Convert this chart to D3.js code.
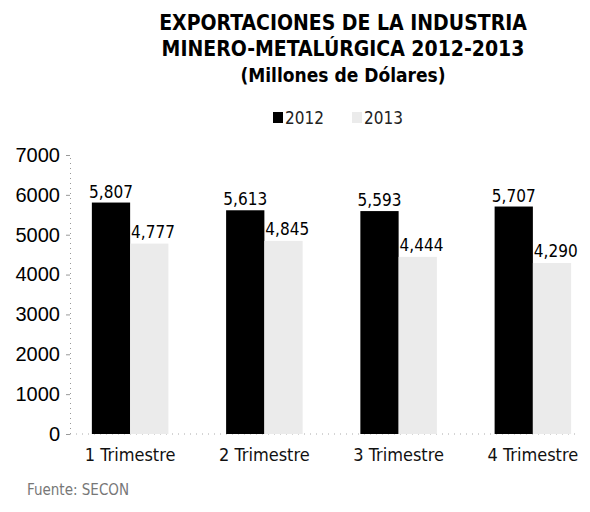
<!DOCTYPE html>
<html lang="es">
<head>
<meta charset="UTF-8" />
<title>Exportaciones minero-metalúrgicas 2012-2013</title>
<script src="https://d3js.org/d3.v7.min.js"></script>
<style>
  body { margin: 0; background: #fff; }
  svg { display: block; font-family: "DejaVu Sans Condensed", "DejaVu Sans", sans-serif; font-stretch: condensed; }
</style>
</head>
<body>
<svg id="chart" width="590" height="512"></svg>
<script>
// datos
const trimestres = ["1 Trimestre", "2 Trimestre", "3 Trimestre", "4 Trimestre"];
const anios = ["2012", "2013"];
const valores2012 = [5807, 5613, 5593, 5707];
const valores2013 = [4777, 4845, 4444, 4290];
const yTicks = [0, 1000, 2000, 3000, 4000, 5000, 6000, 7000];
const colores = { "2012": "#000", "2013": "#ebebeb" };

const svg = d3.select("#chart");
const fmt = d3.format(",");

// escalas
const x0 = d3.scaleBand().domain(trimestres).range([63, 600])
  .paddingInner(0.43).paddingOuter(0.215);
const x1 = d3.scaleBand().domain(anios).range([0, x0.bandwidth()]);
const y = d3.scaleLinear().domain([0, 7000]).range([434, 155]);

// titulo
const titulo = ["EXPORTACIONES DE LA INDUSTRIA", "MINERO-METALÚRGICA 2012-2013", "(Millones de Dólares)"];
svg.append("g").selectAll("text").data(titulo).join("text")
  .attr("x", 343).attr("y", (d, i) => 30 + i * 26)
  .attr("text-anchor", "middle")
  .attr("font-size", (d, i) => i < 2 ? 21 : 19).attr("font-weight", "bold").attr("fill", "#000")
  .text(d => d);

// leyenda
const leg = svg.append("g");
const legX = [273, 352];
anios.forEach((a, i) => {
  leg.append("rect").attr("x", legX[i]).attr("y", 112).attr("width", 10).attr("height", 11)
    .attr("fill", colores[a]);
  leg.append("text").attr("x", legX[i] + 12).attr("y", 124)
    .attr("font-size", 17).attr("fill", "#222").text(a);
});

// eje y
const yAxis = svg.append("g").attr("transform", "translate(70,0)")
  .call(d3.axisLeft(y).tickValues(yTicks).tickSize(4).tickFormat(d => d));
yAxis.select(".domain").attr("stroke", "#999").attr("stroke-dasharray", "1,4");
yAxis.selectAll(".tick line").attr("stroke", "#999");
yAxis.selectAll(".tick text").attr("x", -10).attr("font-size", 20).attr("fill", "#000")
  .style("font-family", "inherit");

// linea base
svg.append("line").attr("x1", 70).attr("x2", 578).attr("y1", y(0)).attr("y2", y(0))
  .attr("stroke", "#aaa").attr("stroke-dasharray", "1,5");

// barras
const series = { "2012": valores2012, "2013": valores2013 };
const grupos = svg.append("g").selectAll("g").data(trimestres).join("g")
  .attr("transform", d => `translate(${x0(d)},0)`);

grupos.selectAll("rect")
  .data((d, i) => anios.map(a => ({ anio: a, valor: series[a][i] })))
  .join("rect")
  .attr("x", d => x1(d.anio))
  .attr("y", d => y(d.valor))
  .attr("width", x1.bandwidth())
  .attr("height", d => y(0) - y(d.valor))
  .attr("fill", d => colores[d.anio]);

// etiquetas de valor
grupos.append("text")
  .attr("x", x1("2012") + x1.bandwidth() / 2)
  .attr("y", (d, i) => y(valores2012[i]) - 5)
  .attr("text-anchor", "middle")
  .attr("font-size", 17).attr("fill", "#000")
  .text((d, i) => fmt(valores2012[i]));

grupos.append("text")
  .attr("x", x1("2013") + 1)
  .attr("y", (d, i) => y(valores2013[i]) - 6)
  .attr("font-size", 17).attr("fill", "#000")
  .text((d, i) => fmt(valores2013[i]));

// categorias
svg.append("g").selectAll("text").data(trimestres).join("text")
  .attr("x", d => x0(d) + x0.bandwidth() / 2)
  .attr("y", 461)
  .attr("text-anchor", "middle")
  .attr("font-size", 18).attr("fill", "#111")
  .text(d => d);

// fuente
svg.append("text").attr("x", 27).attr("y", 495)
  .attr("font-size", 15).attr("fill", "#777").text("Fuente: SECON");
</script>
</body>
</html>
